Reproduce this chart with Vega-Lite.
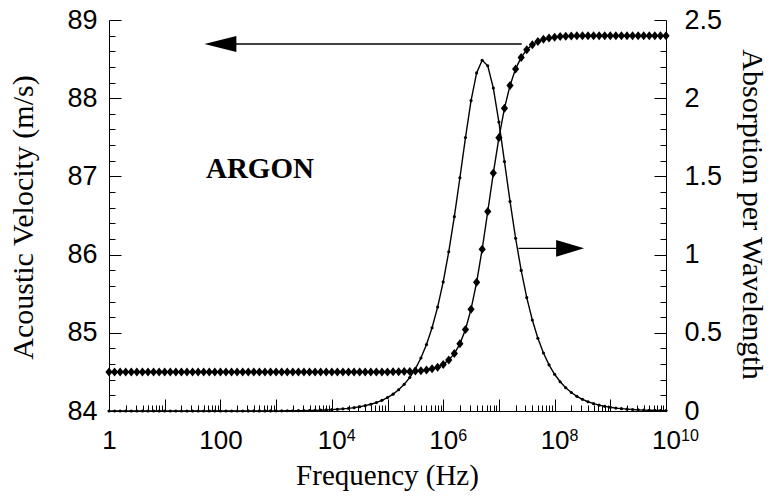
{
  "$schema": "https://vega.github.io/schema/vega-lite/v6.json",
  "width": 557,
  "height": 391,
  "autosize": {"type": "none"},
  "padding": {"left": 109, "top": 20, "right": 104, "bottom": 85},
  "background": "white",
  "config": {
    "view": {"stroke": null},
    "axis": {"grid": false, "domainColor": "black", "tickColor": "black", "labelColor": "black", "titleColor": "black", "domainWidth": 1, "tickWidth": 1, "labelOverlap": false, "labelFlush": false}
  },
  "datasets": {
    "curves": [
      {"f": 1, "v": 84.5, "a": 0}, {"f": 1.2589, "v": 84.5, "a": 0}, {"f": 1.5849, "v": 84.5, "a": 0}, {"f": 1.9953, "v": 84.5, "a": 0}, {"f": 2.5119, "v": 84.5, "a": 0}, {"f": 3.1623, "v": 84.5, "a": 0}, {"f": 3.9811, "v": 84.5, "a": 0}, {"f": 5.0119, "v": 84.5, "a": 0}, {"f": 6.3096, "v": 84.5, "a": 0}, {"f": 7.9433, "v": 84.5, "a": 0},
      {"f": 10, "v": 84.5, "a": 0}, {"f": 12.589, "v": 84.5, "a": 0}, {"f": 15.849, "v": 84.5, "a": 0}, {"f": 19.953, "v": 84.5, "a": 0}, {"f": 25.119, "v": 84.5, "a": 0}, {"f": 31.623, "v": 84.5, "a": 0}, {"f": 39.811, "v": 84.5, "a": 0}, {"f": 50.119, "v": 84.5, "a": 0}, {"f": 63.096, "v": 84.5, "a": 0}, {"f": 79.433, "v": 84.5, "a": 0},
      {"f": 100, "v": 84.5, "a": 0}, {"f": 125.89, "v": 84.5, "a": 0}, {"f": 158.49, "v": 84.5, "a": 0}, {"f": 199.53, "v": 84.5, "a": 0}, {"f": 251.19, "v": 84.5, "a": 0}, {"f": 316.23, "v": 84.5, "a": 0.0003}, {"f": 398.11, "v": 84.5, "a": 0.0003}, {"f": 501.19, "v": 84.5, "a": 0.0004}, {"f": 630.96, "v": 84.5, "a": 0.0005}, {"f": 794.33, "v": 84.5, "a": 0.0007},
      {"f": 1000, "v": 84.5, "a": 0.0009}, {"f": 1258.9, "v": 84.5, "a": 0.0011}, {"f": 1584.9, "v": 84.5, "a": 0.0014}, {"f": 1995.3, "v": 84.5, "a": 0.0017}, {"f": 2511.9, "v": 84.5, "a": 0.0021}, {"f": 3162.3, "v": 84.5, "a": 0.0027}, {"f": 3981.1, "v": 84.5, "a": 0.0034}, {"f": 5011.9, "v": 84.5, "a": 0.0043}, {"f": 6309.6, "v": 84.5, "a": 0.0054}, {"f": 7943.3, "v": 84.5, "a": 0.0068},
      {"f": 1e4, "v": 84.5, "a": 0.0086}, {"f": 1.2589e4, "v": 84.5, "a": 0.0108}, {"f": 1.5849e4, "v": 84.5, "a": 0.0136}, {"f": 1.9953e4, "v": 84.5, "a": 0.0171}, {"f": 2.5119e4, "v": 84.5, "a": 0.0215}, {"f": 3.1623e4, "v": 84.5, "a": 0.027}, {"f": 3.9811e4, "v": 84.5, "a": 0.0341}, {"f": 5.0119e4, "v": 84.5, "a": 0.0429}, {"f": 6.3096e4, "v": 84.5, "a": 0.054}, {"f": 7.9433e4, "v": 84.5, "a": 0.068},
      {"f": 1e5, "v": 84.5, "a": 0.0856}, {"f": 1.2589e5, "v": 84.502, "a": 0.1077}, {"f": 1.5849e5, "v": 84.502, "a": 0.1356}, {"f": 1.9953e5, "v": 84.504, "a": 0.1706}, {"f": 2.5119e5, "v": 84.506, "a": 0.2144}, {"f": 3.1623e5, "v": 84.51, "a": 0.2696}, {"f": 3.9811e5, "v": 84.516, "a": 0.3386}, {"f": 5.0119e5, "v": 84.525, "a": 0.4249}, {"f": 6.3096e5, "v": 84.539, "a": 0.5321}, {"f": 7.9433e5, "v": 84.561, "a": 0.6644},
      {"f": 1e6, "v": 84.596, "a": 0.8256}, {"f": 1.2589e6, "v": 84.651, "a": 1.0185}, {"f": 1.5849e6, "v": 84.734, "a": 1.2426}, {"f": 1.9953e6, "v": 84.859, "a": 1.4914}, {"f": 2.5119e6, "v": 85.043, "a": 1.7485}, {"f": 3.1623e6, "v": 85.302, "a": 1.9848}, {"f": 3.9811e6, "v": 85.645, "a": 2.1619}, {"f": 5.0119e6, "v": 86.07, "a": 2.2426}, {"f": 6.3096e6, "v": 86.551, "a": 2.2074}, {"f": 7.9433e6, "v": 87.042, "a": 2.065},
      {"f": 1e7, "v": 87.493, "a": 1.8475}, {"f": 1.2589e7, "v": 87.872, "a": 1.5946}, {"f": 1.5849e7, "v": 88.163, "a": 1.3399}, {"f": 1.9953e7, "v": 88.375, "a": 1.1046}, {"f": 2.5119e7, "v": 88.522, "a": 0.8989}, {"f": 3.1623e7, "v": 88.62, "a": 0.7252}, {"f": 3.9811e7, "v": 88.685, "a": 0.5818}, {"f": 5.0119e7, "v": 88.726, "a": 0.4651}, {"f": 6.3096e7, "v": 88.753, "a": 0.3709}, {"f": 7.9433e7, "v": 88.77, "a": 0.2954},
      {"f": 1e8, "v": 88.781, "a": 0.235}, {"f": 1.2589e8, "v": 88.788, "a": 0.1869}, {"f": 1.5849e8, "v": 88.793, "a": 0.1486}, {"f": 1.9953e8, "v": 88.795, "a": 0.1181}, {"f": 2.5119e8, "v": 88.797, "a": 0.0938}, {"f": 3.1623e8, "v": 88.798, "a": 0.0745}, {"f": 3.9811e8, "v": 88.799, "a": 0.0592}, {"f": 5.0119e8, "v": 88.8, "a": 0.047}, {"f": 6.3096e8, "v": 88.8, "a": 0.0374}, {"f": 7.9433e8, "v": 88.8, "a": 0.0297},
      {"f": 1e9, "v": 88.8, "a": 0.0236}, {"f": 1.2589e9, "v": 88.8, "a": 0.0187}, {"f": 1.5849e9, "v": 88.8, "a": 0.0149}, {"f": 1.9953e9, "v": 88.8, "a": 0.0118}, {"f": 2.5119e9, "v": 88.8, "a": 0.0094}, {"f": 3.1623e9, "v": 88.8, "a": 0.0074}, {"f": 3.9811e9, "v": 88.8, "a": 0.0059}, {"f": 5.0119e9, "v": 88.8, "a": 0.0047}, {"f": 6.3096e9, "v": 88.8, "a": 0.0037}, {"f": 7.9433e9, "v": 88.8, "a": 0.003},
      {"f": 1e10, "v": 88.8, "a": 0.0024}
    ],
    "arrowV": [{"f": 100, "f2": 2.57e7, "v": 88.693}],
    "arrowA": [{"f": 2.24e7, "f2": 1.9e8, "a": 1.04}],
    "label": [{"f": 513, "v": 87.1, "text": "ARGON"}],
    "exponents": [{"f": 1e4, "e": "4"}, {"f": 1e6, "e": "6"}, {"f": 1e8, "e": "8"}, {"f": 1e10, "e": "10"}]
  },
  "resolve": {"scale": {"y": "independent"}, "axis": {"x": "independent", "y": "independent"}},
  "layer": [
    {
      "data": {"name": "curves"},
      "mark": {"type": "line", "color": "black", "strokeWidth": 1.4},
      "encoding": {
        "x": {"field": "f", "type": "quantitative", "scale": {"type": "log", "domain": [1, 1e10], "nice": false},
          "axis": {"orient": "bottom", "values": [1, 10, 100, 1000, 1e4, 1e5, 1e6, 1e7, 1e8, 1e9, 1e10], "tickSize": -12, "labelPadding": 28,
            "labelExpr": "datum.value == 1 ? '1' : datum.value == 100 ? '100' : (datum.value == 10000 || datum.value == 1000000 || datum.value == 100000000 || datum.value == 10000000000) ? '10' : ''",
            "labelFont": "Liberation Sans", "labelFontSize": 26, "title": "Frequency (Hz)", "titleFont": "Liberation Serif", "titleFontSize": 29, "titleFontWeight": "normal",
            "titleX": 278, "titleY": 73, "titleBaseline": "alphabetic", "titleAlign": "center"}},
        "y": {"field": "a", "type": "quantitative", "scale": {"domain": [0, 2.5], "nice": false, "zero": false},
          "axis": {"orient": "right", "values": [0, 0.5, 1, 1.5, 2, 2.5], "tickSize": -12, "labelPadding": 30, "labelExpr": "toString(datum.value)",
            "labelFont": "Liberation Sans", "labelFontSize": 27, "title": "Absorption per Wavelength", "titleFont": "Liberation Serif", "titleFontSize": 30, "titleFontWeight": "normal",
            "titleAngle": 90, "titleX": 85, "titleY": 194, "titleBaseline": "middle", "titleAlign": "center"}}
      }
    },
    {
      "data": {"name": "curves"},
      "mark": {"type": "point", "shape": "circle", "filled": true, "color": "black", "size": 10, "opacity": 1},
      "encoding": {
        "x": {"field": "f", "type": "quantitative", "scale": {"type": "log", "domain": [1, 1e10], "nice": false},
          "axis": {"orient": "bottom", "values": [2, 3, 4, 5, 6, 7, 8, 9, 20, 30, 40, 50, 60, 70, 80, 90, 200, 300, 400, 500, 600, 700, 800, 900, 2000, 3000, 4000, 5000, 6000, 7000, 8000, 9000, 2e4, 3e4, 4e4, 5e4, 6e4, 7e4, 8e4, 9e4, 2e5, 3e5, 4e5, 5e5, 6e5, 7e5, 8e5, 9e5, 2e6, 3e6, 4e6, 5e6, 6e6, 7e6, 8e6, 9e6, 2e7, 3e7, 4e7, 5e7, 6e7, 7e7, 8e7, 9e7, 2e8, 3e8, 4e8, 5e8, 6e8, 7e8, 8e8, 9e8, 2e9, 3e9, 4e9, 5e9, 6e9, 7e9, 8e9, 9e9], "tickSize": -6, "labels": false, "domain": false, "title": null}},
        "y": {"field": "a", "type": "quantitative", "scale": {"domain": [0, 2.5], "nice": false, "zero": false},
          "axis": {"orient": "right", "values": [0.1, 0.2, 0.3, 0.4, 0.6, 0.7, 0.8, 0.9, 1.1, 1.2, 1.3, 1.4, 1.6, 1.7, 1.8, 1.9, 2.1, 2.2, 2.3, 2.4], "tickSize": -6, "labels": false, "domain": false, "title": null}}
      }
    },
    {
      "data": {"name": "curves"},
      "mark": {"type": "line", "color": "black", "strokeWidth": 1.4},
      "encoding": {
        "x": {"field": "f", "type": "quantitative", "scale": {"type": "log", "domain": [1, 1e10], "nice": false}, "axis": null},
        "y": {"field": "v", "type": "quantitative", "scale": {"domain": [84, 89], "nice": false, "zero": false},
          "axis": {"orient": "left", "values": [84, 85, 86, 87, 88, 89], "tickSize": -12, "labelPadding": 24, "format": "d",
            "labelFont": "Liberation Sans", "labelFontSize": 27, "title": "Acoustic Velocity (m/s)", "titleFont": "Liberation Serif", "titleFontSize": 30, "titleFontWeight": "normal",
            "titleAngle": 270, "titleX": -86, "titleY": 197, "titleBaseline": "middle", "titleAlign": "center"}}
      }
    },
    {
      "data": {"name": "curves"},
      "mark": {"type": "point", "shape": "M0,-1L0.8,0L0,1L-0.8,0Z", "filled": true, "color": "black", "size": 81, "opacity": 1},
      "encoding": {
        "x": {"field": "f", "type": "quantitative", "scale": {"type": "log", "domain": [1, 1e10], "nice": false}, "axis": null},
        "y": {"field": "v", "type": "quantitative", "scale": {"domain": [84, 89], "nice": false, "zero": false},
          "axis": {"orient": "left", "values": [84.2, 84.4, 84.6, 84.8, 85.2, 85.4, 85.6, 85.8, 86.2, 86.4, 86.6, 86.8, 87.2, 87.4, 87.6, 87.8, 88.2, 88.4, 88.6, 88.8], "tickSize": -6, "labels": false, "domain": false, "title": null}}
      }
    },
    {
      "data": {"name": "arrowV"},
      "mark": {"type": "rule", "color": "black", "strokeWidth": 1.3},
      "encoding": {
        "x": {"field": "f", "type": "quantitative", "scale": {"type": "log", "domain": [1, 1e10], "nice": false}, "axis": null},
        "x2": {"field": "f2"},
        "y": {"field": "v", "type": "quantitative", "scale": {"domain": [84, 89], "nice": false, "zero": false}, "axis": null}
      }
    },
    {
      "data": {"name": "arrowV"},
      "mark": {"type": "point", "shape": "M-1,0L1,-0.5L1,0.5Z", "filled": true, "color": "black", "size": 1024, "opacity": 1},
      "encoding": {
        "x": {"field": "f", "type": "quantitative", "scale": {"type": "log", "domain": [1, 1e10], "nice": false}, "axis": null},
        "y": {"field": "v", "type": "quantitative", "scale": {"domain": [84, 89], "nice": false, "zero": false}, "axis": null}
      }
    },
    {
      "data": {"name": "arrowA"},
      "mark": {"type": "rule", "color": "black", "strokeWidth": 1.3},
      "encoding": {
        "x": {"field": "f", "type": "quantitative", "scale": {"type": "log", "domain": [1, 1e10], "nice": false}, "axis": null},
        "x2": {"field": "f2"},
        "y": {"field": "a", "type": "quantitative", "scale": {"domain": [0, 2.5], "nice": false, "zero": false}, "axis": null}
      }
    },
    {
      "data": {"name": "arrowA"},
      "mark": {"type": "point", "shape": "M1,0L-1,-0.6L-1,0.6Z", "filled": true, "color": "black", "size": 784, "opacity": 1},
      "encoding": {
        "x": {"field": "f2", "type": "quantitative", "scale": {"type": "log", "domain": [1, 1e10], "nice": false}, "axis": null},
        "y": {"field": "a", "type": "quantitative", "scale": {"domain": [0, 2.5], "nice": false, "zero": false}, "axis": null}
      }
    },
    {
      "data": {"name": "label"},
      "mark": {"type": "text", "font": "Liberation Serif", "fontWeight": "bold", "fontSize": 29, "color": "black", "align": "center", "baseline": "middle"},
      "encoding": {
        "x": {"field": "f", "type": "quantitative", "scale": {"type": "log", "domain": [1, 1e10], "nice": false}, "axis": null},
        "y": {"field": "v", "type": "quantitative", "scale": {"domain": [84, 89], "nice": false, "zero": false}, "axis": null},
        "text": {"field": "text"}
      }
    },
    {
      "data": {"name": "exponents"},
      "mark": {"type": "text", "font": "Liberation Sans", "fontSize": 16, "color": "black", "align": "left", "baseline": "alphabetic", "dx": 15, "dy": 30},
      "encoding": {
        "x": {"field": "f", "type": "quantitative", "scale": {"type": "log", "domain": [1, 1e10], "nice": false}, "axis": null},
        "y": {"datum": 0, "type": "quantitative", "scale": {"domain": [0, 2.5], "nice": false, "zero": false}, "axis": null},
        "text": {"field": "e"}
      }
    }
  ]
}
